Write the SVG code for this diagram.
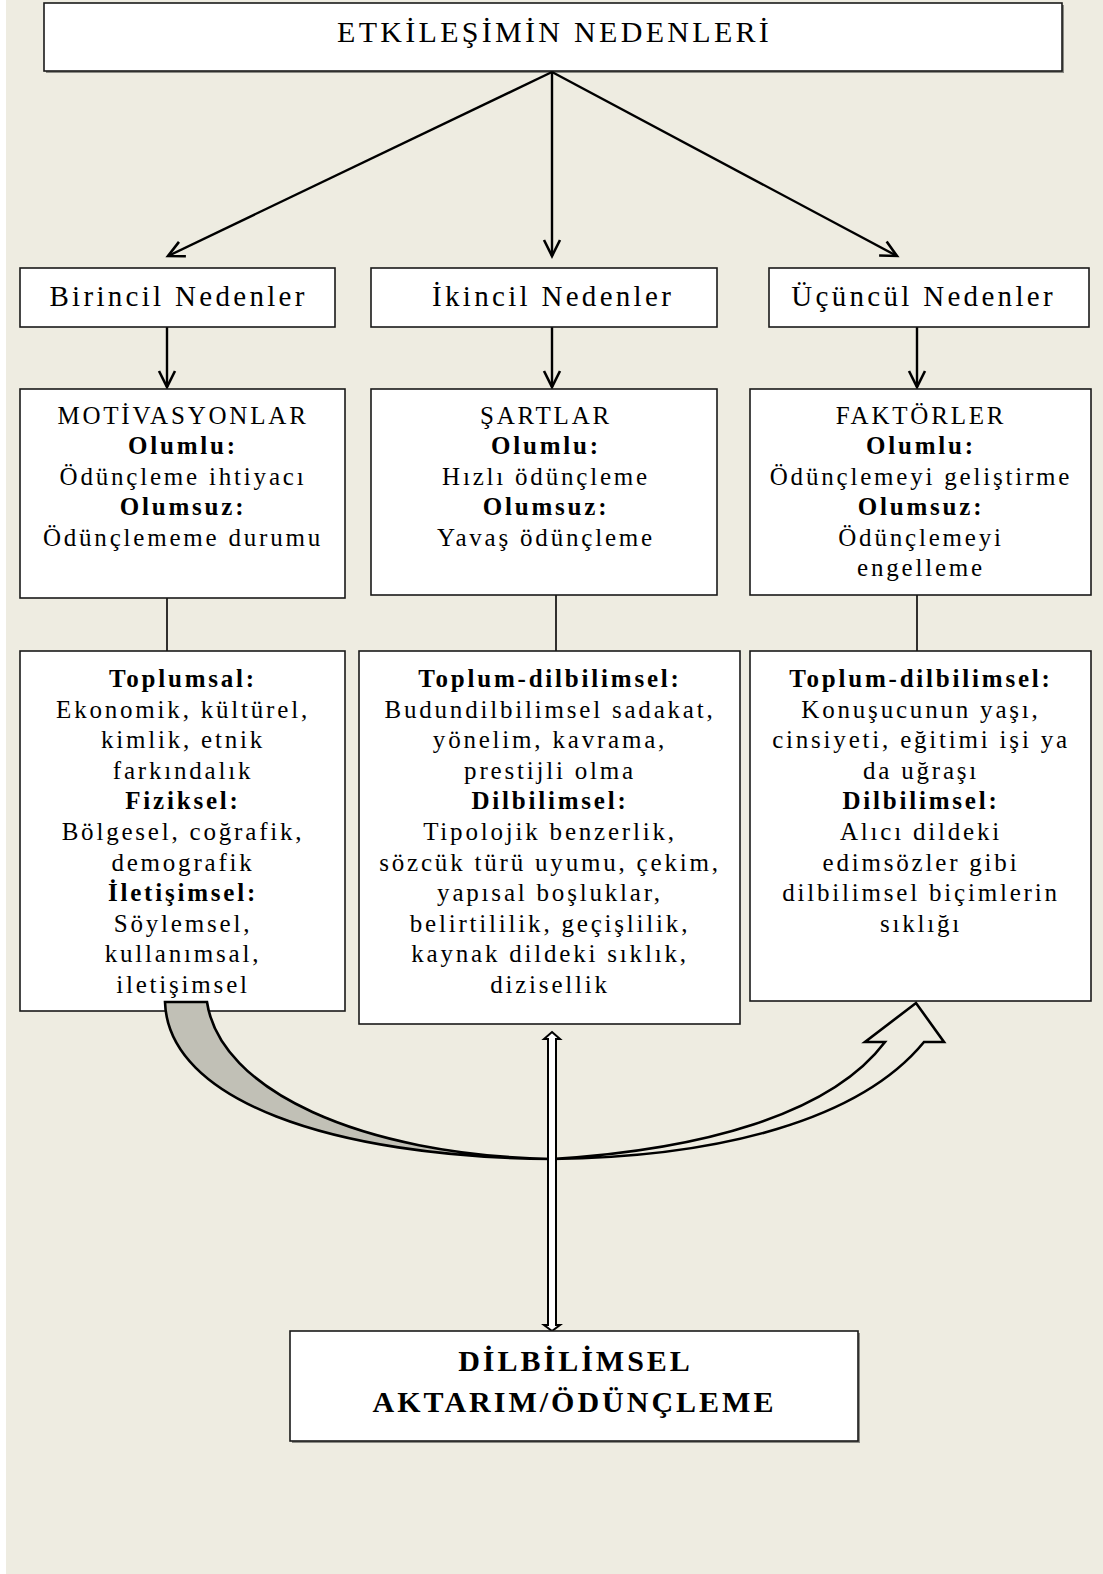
<svg xmlns="http://www.w3.org/2000/svg" width="1103" height="1574" viewBox="0 0 1103 1574">
  <defs>
    <style>
      .box { fill: #ffffff; stroke: #1a1a1a; stroke-width: 1.6; }
      .shadow { fill: #8a8a84; }
      .t { font-family: "Liberation Serif", "Times New Roman", serif; fill: #000; text-anchor: middle; }
      .title { font-size: 30px; letter-spacing: 3.3px; }
      .head { font-size: 29px; letter-spacing: 3.3px; }
      .body { font-size: 25px; letter-spacing: 2.8px; }
      .b { font-weight: bold; }
      .final { font-size: 30px; font-weight: bold; letter-spacing: 3px; }
      .wire { fill: none; stroke: #000; stroke-width: 2.4; }
      .link { fill: none; stroke: #000; stroke-width: 1.6; }
    </style>
    <marker id="vee" markerUnits="userSpaceOnUse" markerWidth="24" markerHeight="24" viewBox="-20 -12 24 24" refX="0" refY="0" orient="auto">
      <path d="M-16,-8 L0,0 L-16,8" fill="none" stroke="#000" stroke-width="2.6" stroke-linejoin="miter"/>
    </marker>
  </defs>

  <!-- page -->
  <rect x="0" y="0" width="1103" height="1574" fill="#ffffff"/>
  <rect x="6" y="0" width="1097" height="1574" fill="#EEECE1"/>

  <!-- top node -->
  <g id="node-top">
    <rect class="shadow" x="46" y="5" width="1018" height="68"/>
    <rect class="box" x="44" y="3" width="1018" height="68"/>
    <text class="t title" x="554.6" y="42">ETKİLEŞİMİN NEDENLERİ</text>
  </g>

  <!-- connectors -->
  <g id="connectors">
    <line class="wire" x1="552" y1="72" x2="168" y2="256" marker-end="url(#vee)"/>
    <line class="wire" x1="552" y1="72" x2="552" y2="256" marker-end="url(#vee)"/>
    <line class="wire" x1="552" y1="72" x2="897" y2="256" marker-end="url(#vee)"/>
    <line class="wire" x1="167" y1="327" x2="167" y2="387" marker-end="url(#vee)"/>
    <line class="wire" x1="552" y1="327" x2="552" y2="387" marker-end="url(#vee)"/>
    <line class="wire" x1="917" y1="327" x2="917" y2="387" marker-end="url(#vee)"/>
    <line class="link" x1="167" y1="598" x2="167" y2="651"/>
    <line class="link" x1="556" y1="595" x2="556" y2="651"/>
    <line class="link" x1="917" y1="595" x2="917" y2="651"/>
  </g>

  <!-- second row -->
  <g id="node-birincil">
    <rect class="box" x="20" y="268" width="315" height="59"/>
    <text class="t head" x="178.6" y="306">Birincil Nedenler</text>
  </g>
  <g id="node-ikincil">
    <rect class="box" x="371" y="268" width="346" height="59"/>
    <text class="t head" x="553.1" y="306">İkincil Nedenler</text>
  </g>
  <g id="node-ucuncul">
    <rect class="box" x="769" y="268" width="320" height="59"/>
    <text class="t head" x="923.6" y="306">Üçüncül Nedenler</text>
  </g>

  <!-- third row -->
  <g id="node-motivasyonlar">
    <rect class="box" x="20" y="389" width="325" height="209"/>
    <text class="t body" x="183" y="423.5">MOTİVASYONLAR</text>
    <text class="t body b" x="183" y="454">Olumlu:</text>
    <text class="t body" x="183" y="484.5">Ödünçleme ihtiyacı</text>
    <text class="t body b" x="183" y="515">Olumsuz:</text>
    <text class="t body" x="183" y="545.5">Ödünçlememe durumu</text>
  </g>
  <g id="node-sartlar">
    <rect class="box" x="371" y="389" width="346" height="206"/>
    <text class="t body" x="546" y="423.5">ŞARTLAR</text>
    <text class="t body b" x="546" y="454">Olumlu:</text>
    <text class="t body" x="546" y="484.5">Hızlı ödünçleme</text>
    <text class="t body b" x="546" y="515">Olumsuz:</text>
    <text class="t body" x="546" y="545.5">Yavaş ödünçleme</text>
  </g>
  <g id="node-faktorler">
    <rect class="box" x="750" y="389" width="341" height="206"/>
    <text class="t body" x="921" y="423.5">FAKTÖRLER</text>
    <text class="t body b" x="921" y="454">Olumlu:</text>
    <text class="t body" x="921" y="484.5">Ödünçlemeyi geliştirme</text>
    <text class="t body b" x="921" y="515">Olumsuz:</text>
    <text class="t body" x="921" y="545.5">Ödünçlemeyi</text>
    <text class="t body" x="921" y="576">engelleme</text>
  </g>

  <!-- fourth row -->
  <g id="node-toplumsal">
    <rect class="box" x="20" y="651" width="325" height="360"/>
    <text class="t body b" x="183" y="687">Toplumsal:</text>
    <text class="t body" x="183" y="717.6">Ekonomik, kültürel,</text>
    <text class="t body" x="183" y="748.2">kimlik, etnik</text>
    <text class="t body" x="183" y="778.8">farkındalık</text>
    <text class="t body b" x="183" y="809.4">Fiziksel:</text>
    <text class="t body" x="183" y="840">Bölgesel, coğrafik,</text>
    <text class="t body" x="183" y="870.6">demografik</text>
    <text class="t body b" x="183" y="901.2">İletişimsel:</text>
    <text class="t body" x="183" y="931.8">Söylemsel,</text>
    <text class="t body" x="183" y="962.4">kullanımsal,</text>
    <text class="t body" x="183" y="993">iletişimsel</text>
  </g>
  <g id="node-toplum-dil-orta">
    <rect class="box" x="359" y="651" width="381" height="373"/>
    <text class="t body b" x="550" y="687">Toplum-dilbilimsel:</text>
    <text class="t body" x="550" y="717.6">Budundilbilimsel sadakat,</text>
    <text class="t body" x="550" y="748.2">yönelim, kavrama,</text>
    <text class="t body" x="550" y="778.8">prestijli olma</text>
    <text class="t body b" x="550" y="809.4">Dilbilimsel:</text>
    <text class="t body" x="550" y="840">Tipolojik benzerlik,</text>
    <text class="t body" x="550" y="870.6">sözcük türü uyumu, çekim,</text>
    <text class="t body" x="550" y="901.2">yapısal boşluklar,</text>
    <text class="t body" x="550" y="931.8">belirtililik, geçişlilik,</text>
    <text class="t body" x="550" y="962.4">kaynak dildeki sıklık,</text>
    <text class="t body" x="550" y="993">dizisellik</text>
  </g>
  <g id="node-toplum-dil-sag">
    <rect class="box" x="750" y="651" width="341" height="350"/>
    <text class="t body b" x="921" y="687">Toplum-dilbilimsel:</text>
    <text class="t body" x="921" y="717.6">Konuşucunun yaşı,</text>
    <text class="t body" x="921" y="748.2">cinsiyeti, eğitimi işi ya</text>
    <text class="t body" x="921" y="778.8">da uğraşı</text>
    <text class="t body b" x="921" y="809.4">Dilbilimsel:</text>
    <text class="t body" x="921" y="840">Alıcı dildeki</text>
    <text class="t body" x="921" y="870.6">edimsözler gibi</text>
    <text class="t body" x="921" y="901.2">dilbilimsel biçimlerin</text>
    <text class="t body" x="921" y="931.8">sıklığı</text>
  </g>

  <!-- curved up arrow: shaded back face on the left, hollow band and head on the right -->
  <g id="curved-arrow" stroke="#000" stroke-width="2.6" stroke-linejoin="miter">
    <path d="M165,1002 L207,1002 C220,1090 360,1155 552,1159 C330,1157 168,1100 165,1002 Z" fill="#C1C0B6"/>
    <path d="M552,1159 C720,1157 860,1120 924,1042 L944,1042 L916,1003 L865,1042 L885,1042 C830,1115 700,1150 552,1159 Z" fill="none"/>
  </g>

  <!-- hollow double-headed arrow -->
  <g id="double-arrow">
    <path d="M552,1032 L560,1039 L556,1039 L556,1325 L560,1325 L552,1331 L544,1325 L548,1325 L548,1039 L544,1039 Z" fill="#ffffff" stroke="#000" stroke-width="2"/>
  </g>

  <!-- bottom node -->
  <g id="node-final">
    <rect class="shadow" x="292" y="1333" width="568" height="110"/>
    <rect class="box" x="290" y="1331" width="568" height="110"/>
    <text class="t final" x="575.5" y="1371">DİLBİLİMSEL</text>
    <text class="t final" x="574.5" y="1412">AKTARIM/ÖDÜNÇLEME</text>
  </g>
</svg>
